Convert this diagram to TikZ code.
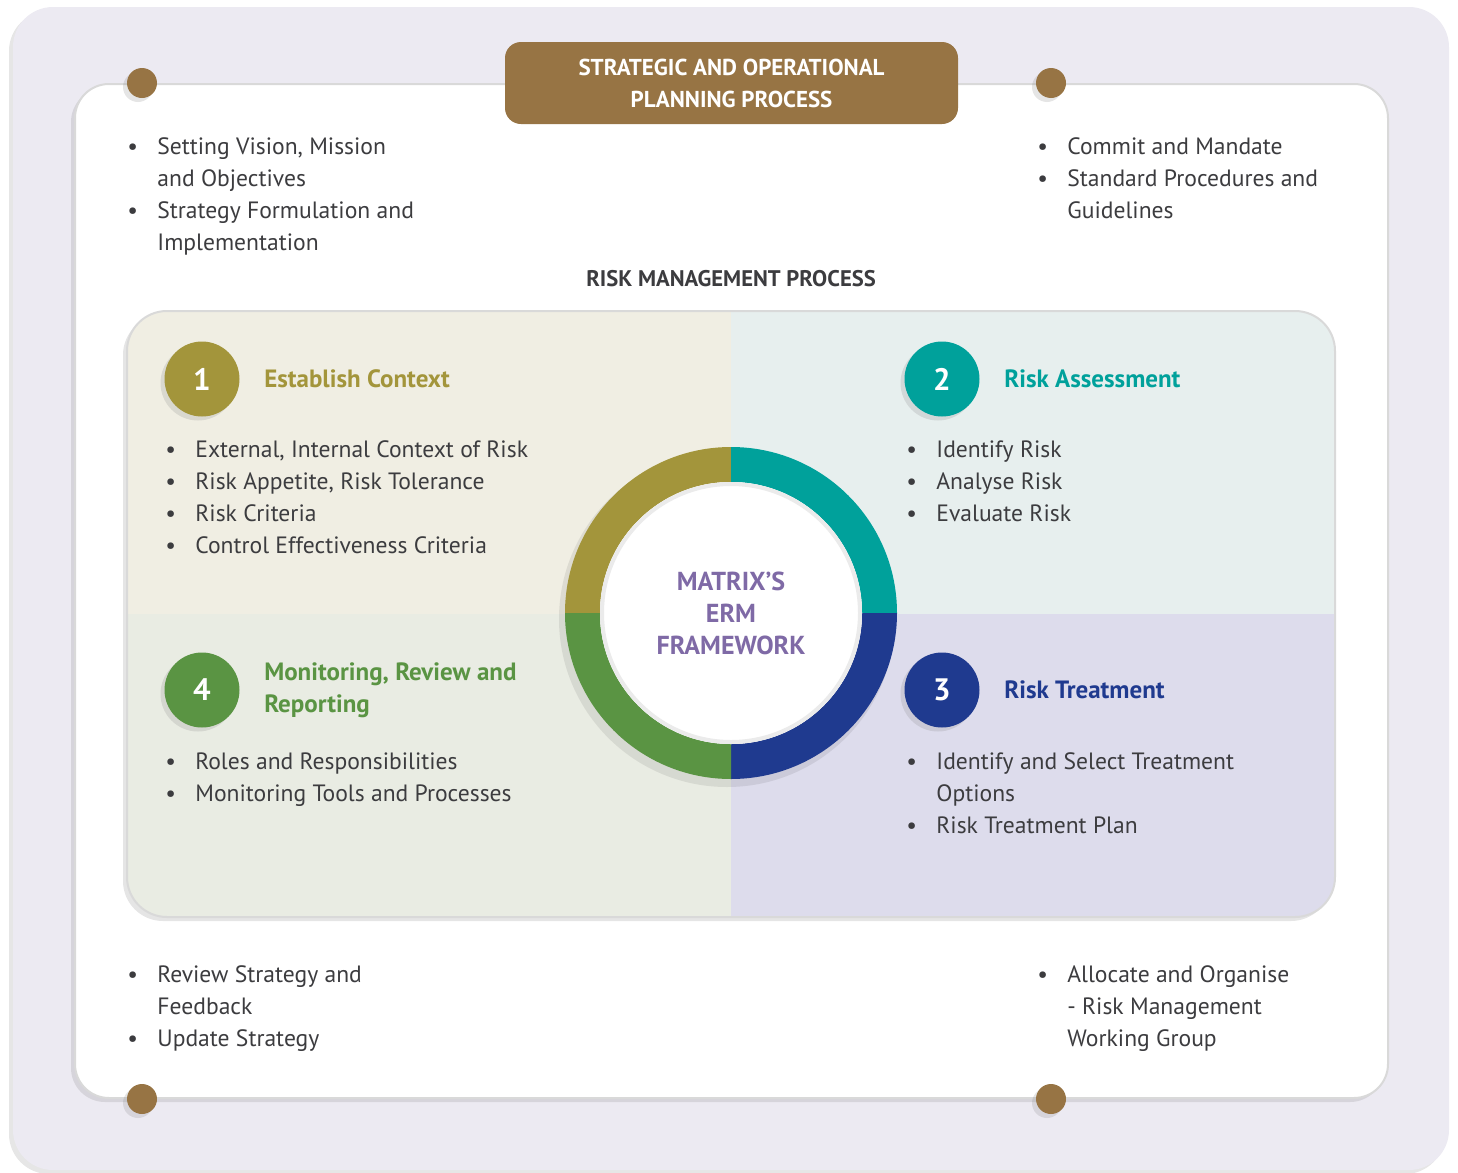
\documentclass[tikz,border=0pt]{standalone}
\usepackage{fontspec}
\setmainfont{PT Sans}
\usetikzlibrary{positioning,shadows}

\definecolor{lavender}{HTML}{ECEAF2}
\definecolor{bronze}{HTML}{977444}
\definecolor{ink}{HTML}{3C3C3F}
\definecolor{context}{HTML}{A3953B}
\definecolor{assess}{HTML}{00A19B}
\definecolor{treat}{HTML}{1F3A8F}
\definecolor{monitor}{HTML}{5A9443}
\definecolor{ermpurple}{HTML}{7F6AA6}
\definecolor{ctxbg}{HTML}{F0EEE3}
\definecolor{assbg}{HTML}{E7EFEE}
\definecolor{monbg}{HTML}{E9ECE3}
\definecolor{trtbg}{HTML}{DDDCEC}

\newcommand{\bitem}[1]{\textbullet & #1\\}
\newcommand{\bmore}[1]{& #1\\}
\newcommand{\blist}[1]{\begin{tabular}[t]{@{}p{15pt}@{}l@{}}#1\end{tabular}}

\begin{document}
\begin{tikzpicture}[x=0.5pt, y=0.5pt, font=\fontsize{11.8}{16}\selectfont,
  softshadow/.style={drop shadow={shadow xshift=-2pt, shadow yshift=-2pt, opacity=0.2}},
  knob/.style={circle, fill=bronze, minimum size=15pt, inner sep=0pt, softshadow},
  banner/.style={rounded corners=8pt, fill=bronze, minimum width=226.5pt, minimum height=41pt,
    text=white, align=center, font=\fontsize{11.5}{16}\selectfont\bfseries},
  stepnum/.style={circle, minimum size=37.5pt, inner sep=0pt, text=white,
    font=\fontsize{15.5}{18}\selectfont\bfseries, softshadow},
  stephead/.style={align=left, inner sep=0pt, font=\fontsize{12.5}{16}\selectfont\bfseries},
  bullets/.style={anchor=base west, inner sep=0pt, text=ink}]
  \useasboundingbox (0,0) rectangle (1458,-1173);

  % outer frame and white panel
  \fill[lavender, rounded corners=20pt, softshadow] (13,-7) rectangle (1449,-1170);
  \filldraw[fill=white, draw=gray!30, line width=1pt, rounded corners=17pt, softshadow] (75,-84) rectangle (1388,-1098);

  % bronze knobs on the panel edge
  \foreach \x/\y [count=\i] in {142/83, 1051/83, 142/1099, 1051/1099}
    \node[knob] (k\i) at (\x,-\y) {};

  \node[banner] (plan) at (731.5,-83) {STRATEGIC AND OPERATIONAL\\PLANNING PROCESS};

  % planning side notes
  \node[bullets] (vision) at (127,-154) {\blist{\bitem{Setting Vision, Mission}\bmore{and Objectives}\bitem{Strategy Formulation and}\bmore{Implementation}}};
  \node[bullets] (mandate) at (1037,-154) {\blist{\bitem{Commit and Mandate}\bitem{Standard Procedures and}\bmore{Guidelines}}};
  \node[bullets] (review) at (127,-982) {\blist{\bitem{Review Strategy and}\bmore{Feedback}\bitem{Update Strategy}}};
  \node[bullets] (allocate) at (1037,-982) {\blist{\bitem{Allocate and Organise}\bmore{- Risk Management}\bmore{Working Group}}};

  \node[text=ink, font=\fontsize{11.3}{16}\selectfont\bfseries] (rmp) at (731,-279) {RISK MANAGEMENT PROCESS};

  % four quadrants
  \fill[white, rounded corners=20pt, softshadow] (127,-311) rectangle (1335,-917);
  \begin{scope}
    \clip[rounded corners=20pt] (127,-311) rectangle (1335,-917);
    \fill[ctxbg] (127,-311) rectangle (731,-614);
    \fill[assbg] (731,-311) rectangle (1335,-614);
    \fill[monbg] (127,-614) rectangle (731,-917);
    \fill[trtbg] (731,-614) rectangle (1335,-917);
  \end{scope}
  \draw[gray!30, line width=1pt, rounded corners=20pt] (127,-311) rectangle (1335,-917);

  \foreach \i/\x/\y/\c in {1/202/379/context, 2/942/379/assess, 3/942/690/treat, 4/202/690/monitor}
    \node[stepnum, fill=\c] (n\i) at (\x,-\y) {\i};

  \node[stephead, text=context, right=12pt of n1] (h1) {Establish Context};
  \node[stephead, text=assess, right=12pt of n2] (h2) {Risk Assessment};
  \node[stephead, text=treat, right=12pt of n3] (h3) {Risk Treatment};
  \node[stephead, text=monitor, right=12pt of n4] (h4) {Monitoring, Review and\\Reporting};

  \node[bullets] (l1) at (165,-457) {\blist{\bitem{External, Internal Context of Risk}\bitem{Risk Appetite, Risk Tolerance}\bitem{Risk Criteria}\bitem{Control Effectiveness Criteria}}};
  \node[bullets] (l2) at (906,-457) {\blist{\bitem{Identify Risk}\bitem{Analyse Risk}\bitem{Evaluate Risk}}};
  \node[bullets] (l4) at (165,-769) {\blist{\bitem{Roles and Responsibilities}\bitem{Monitoring Tools and Processes}}};
  \node[bullets] (l3) at (906,-769) {\blist{\bitem{Identify and Select Treatment}\bmore{Options}\bitem{Risk Treatment Plan}}};

  % framework ring
  \coordinate (ring) at (731,-613);
  \fill[black, opacity=0.08] (ring) ++(-4,-6) circle[radius=168];
  \foreach \a/\c in {90/context, 0/assess, 270/treat, 180/monitor}
    \fill[\c] (ring) ++(\a:166) arc[start angle=\a, delta angle=90, radius=166]
      -- ++(\a+90:-35) arc[start angle=\a+90, delta angle=-90, radius=131] -- cycle;
  \fill[white] (ring) circle[radius=131];
  \draw[black!8, line width=2pt] (ring) circle[radius=129];
  \node[text=ermpurple, align=center, font=\fontsize{13}{16}\selectfont\bfseries] (erm) at (ring) {MATRIX’S\\ERM\\FRAMEWORK};
\end{tikzpicture}
\end{document}
